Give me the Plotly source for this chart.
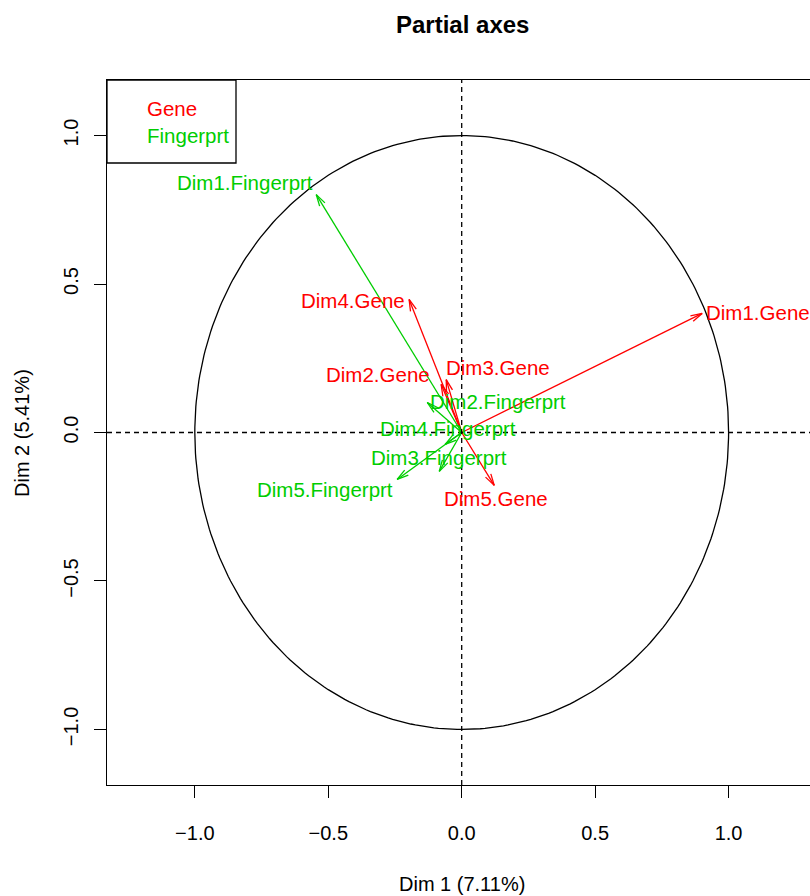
import math
import plotly.graph_objects as go

# ---- data ----
gene_labels = ["Dim1.Gene", "Dim2.Gene", "Dim3.Gene", "Dim4.Gene", "Dim5.Gene"]
gene_x = [0.901, -0.077, -0.058, -0.197, 0.122]
gene_y = [0.401, 0.162, 0.178, 0.448, -0.178]

fp_labels = ["Dim1.Fingerprt", "Dim2.Fingerprt", "Dim3.Fingerprt", "Dim4.Fingerprt", "Dim5.Fingerprt"]
fp_x = [-0.545, -0.129, -0.084, -0.062, -0.242]
fp_y = [0.801, 0.101, -0.131, -0.040, -0.158]

# label anchor positions (text centres), data units
gene_lab_x = [1.110, -0.313, 0.137, -0.406, 0.127]
gene_lab_y = [0.404, 0.195, 0.219, 0.444, -0.222]
fp_lab_x = [-0.813, 0.137, -0.084, -0.051, -0.511]
fp_lab_y = [0.842, 0.104, -0.084, 0.013, -0.192]

tick_vals = [-1.0, -0.5, 0.0, 0.5, 1.0]
tick_text = ["\u22121.0", "\u22120.5", "0.0", "0.5", "1.0"]

groups = ["Gene", "Fingerprt"]
RED = "#FF0000"
GREEN = "#00CD00"
FONT = "Liberation Sans, Arial, sans-serif"
LAB_SIZE = 20.5

# ---- layout geometry ----
W, H = 810, 896
ML, MR, MT, MB = 107, 0, 80, 111
XR = [-1.329, 1.305]
YR = [-1.187, 1.187]
px_x = (W - ML - MR) / (XR[1] - XR[0])
px_y = (H - MT - MB) / (YR[1] - YR[0])


def arrow_path(xs, ys, head_px=12, ang=15):
    px, py = [], []
    for x, y in zip(xs, ys):
        px += [0, x, None]
        py += [0, y, None]
        dx, dy = x * px_x, y * px_y
        L = math.hypot(dx, dy)
        ux, uy = dx / L, dy / L
        for s in (1, -1):
            a = math.radians(ang) * s
            rx = ux * math.cos(a) - uy * math.sin(a)
            ry = ux * math.sin(a) + uy * math.cos(a)
            hx = x - head_px * rx / px_x
            hy = y - head_px * ry / px_y
            px += [x, hx, None]
            py += [y, hy, None]
    return px, py


fig = go.Figure()

# unit circle
th = [i * 2 * math.pi / 360 for i in range(361)]
fig.add_trace(go.Scatter(x=[math.cos(t) for t in th], y=[math.sin(t) for t in th],
                         mode="lines", line=dict(color="black", width=1.3),
                         hoverinfo="skip", showlegend=False))

gx, gy = arrow_path(gene_x, gene_y)
fig.add_trace(go.Scatter(x=gx, y=gy, mode="lines", line=dict(color=RED, width=1.3),
                         hoverinfo="skip", showlegend=False))
fx, fy = arrow_path(fp_x, fp_y)
fig.add_trace(go.Scatter(x=fx, y=fy, mode="lines", line=dict(color=GREEN, width=1.3),
                         hoverinfo="skip", showlegend=False))

annotations = []
for lab, x, y in zip(gene_labels, gene_lab_x, gene_lab_y):
    annotations.append(dict(x=x, y=y, xref="x", yref="y", text=lab, showarrow=False,
                            font=dict(color=RED, size=LAB_SIZE, family=FONT),
                            xanchor="center", yanchor="middle"))
for lab, x, y in zip(fp_labels, fp_lab_x, fp_lab_y):
    annotations.append(dict(x=x, y=y, xref="x", yref="y", text=lab, showarrow=False,
                            font=dict(color=GREEN, size=LAB_SIZE, family=FONT),
                            xanchor="center", yanchor="middle"))

# title and axis titles
annotations.append(dict(x=0.505, y=1.0794, xref="paper", yref="paper", text="<b>Partial axes</b>",
                        showarrow=False, font=dict(size=24, family=FONT, color="black"),
                        xanchor="center", yanchor="middle"))
annotations.append(dict(x=0.505, y=-0.1404, xref="paper", yref="paper", text="Dim 1 (7.11%)",
                        showarrow=False, font=dict(size=20, family=FONT, color="black"),
                        xanchor="center", yanchor="middle"))
annotations.append(dict(x=-0.1209, y=0.4993, xref="paper", yref="paper", text="Dim 2 (5.41%)",
                        showarrow=False, font=dict(size=20, family=FONT, color="black"),
                        textangle=-90, xanchor="center", yanchor="middle"))

# legend
for g, c, yy in zip(groups, [RED, GREEN], [0.9589, 0.9206]):
    annotations.append(dict(x=0.0541, y=yy, xref="paper", yref="paper", text=g, showarrow=False,
                            font=dict(size=LAB_SIZE, family=FONT, color=c),
                            xanchor="left", yanchor="middle"))

shapes = [
    dict(type="line", xref="paper", yref="y", x0=0, x1=1, y0=0, y1=0,
         line=dict(color="black", width=1.3, dash="5px,4px")),
    dict(type="line", xref="x", yref="paper", x0=0, x1=0, y0=0, y1=1,
         line=dict(color="black", width=1.3, dash="5px,4px")),
    dict(type="rect", xref="paper", yref="paper", x0=0, x1=0.1835, y0=0.8823, y1=1,
         line=dict(color="black", width=1.3), fillcolor="rgba(0,0,0,0)"),
]

fig.update_layout(
    width=W, height=H,
    margin=dict(l=ML, r=MR, t=MT, b=MB, pad=0),
    paper_bgcolor="white", plot_bgcolor="white",
    showlegend=False,
    annotations=annotations, shapes=shapes,
    font=dict(family=FONT, size=20, color="black"),
    xaxis=dict(range=XR, tickvals=tick_vals, ticktext=tick_text, showgrid=False, zeroline=False,
               showline=True, linecolor="black", linewidth=1.3, mirror=True,
               ticks="outside", ticklen=12, tickwidth=1.3, tickcolor="black",
               ticklabelstandoff=18, tickfont=dict(size=20, family=FONT, color="black")),
    yaxis=dict(range=YR, tickvals=tick_vals, ticktext=tick_text, showgrid=False, zeroline=False,
               showline=True, linecolor="black", linewidth=1.3, mirror=False,
               ticks="outside", ticklen=12, tickwidth=1.3, tickcolor="black", tickangle=-90,
               ticklabelstandoff=8, tickfont=dict(size=20, family=FONT, color="black")),
)

fig.write_html(
    "out.html",
    config={"displayModeBar": False},
    post_script=(
        "document.documentElement.style.margin='0';"
        "document.body.style.margin='0';"
        "document.body.style.padding='0';"
        "document.documentElement.style.overflow='hidden';"
        "document.body.style.overflow='hidden';"
    ),
)
